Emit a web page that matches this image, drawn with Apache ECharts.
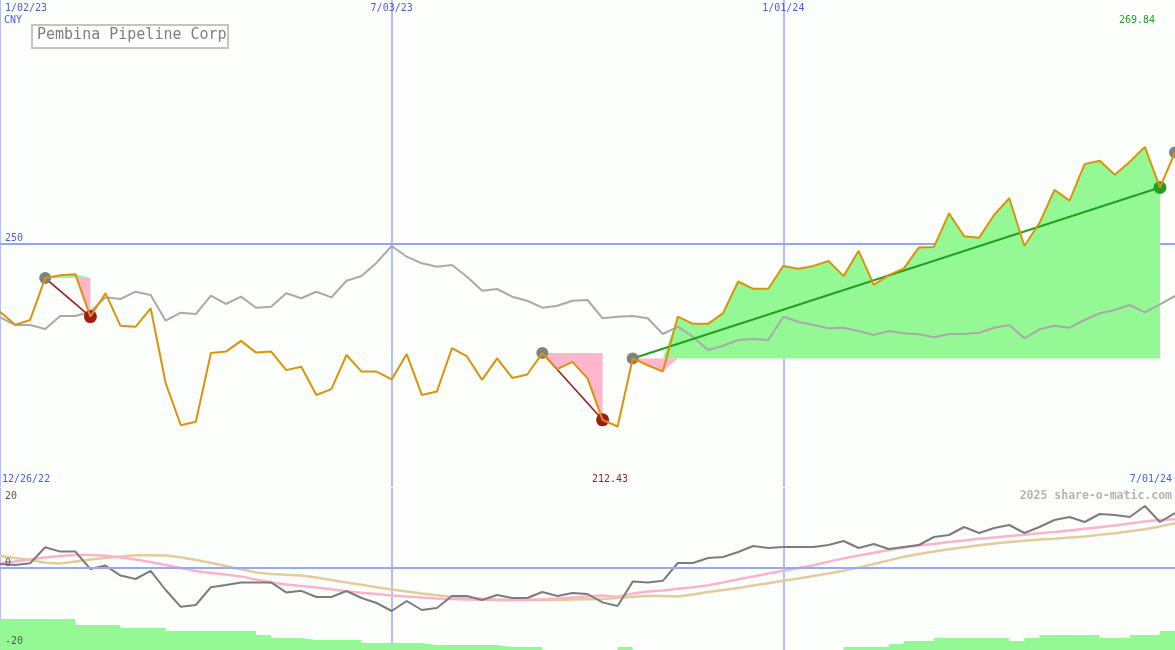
<!DOCTYPE html>
<html><head><meta charset="utf-8">
<script src="https://cdn.jsdelivr.net/npm/echarts@6/dist/echarts.min.js"></script>
<style>html,body{margin:0;padding:0;background:#fcfefc}#c{width:1175px;height:650px}</style>
</head><body><div id="c"></div><script>
const dates = ['1/02/23','1/09/23','1/16/23','1/23/23','1/30/23','2/06/23','2/13/23','2/20/23','2/27/23','3/06/23',
'3/13/23','3/20/23','3/27/23','4/03/23','4/10/23','4/17/23','4/24/23','5/01/23','5/08/23','5/15/23',
'5/22/23','5/29/23','6/05/23','6/12/23','6/19/23','6/26/23','7/03/23','7/10/23','7/17/23','7/24/23',
'7/31/23','8/07/23','8/14/23','8/21/23','8/28/23','9/04/23','9/11/23','9/18/23','9/25/23','10/02/23',
'10/09/23','10/16/23','10/23/23','10/30/23','11/06/23','11/13/23','11/20/23','11/27/23','12/04/23','12/11/23',
'12/18/23','12/25/23','1/01/24','1/08/24','1/15/24','1/22/24','1/29/24','2/05/24','2/12/24','2/19/24',
'2/26/24','3/04/24','3/11/24','3/18/24','3/25/24','4/01/24','4/08/24','4/15/24','4/22/24','4/29/24',
'5/06/24','5/13/24','5/20/24','5/27/24','6/03/24','6/10/24','6/17/24','6/24/24','7/01/24'];
const gridDateIdx = [0, 26, 52];

const close = [236.0,233.3,234.3,242.9,243.5,243.7,235.0,239.8,233.1,232.9,
236.7,221.3,212.7,213.4,227.5,227.8,230.0,227.6,227.8,224.0,
224.7,218.9,220.1,227.1,223.7,223.7,222.1,227.3,218.9,219.6,
228.5,226.8,222.0,226.4,222.4,223.1,227.5,224.2,225.7,222.3,
213.8,212.43,226.4,225.0,223.7,235.0,233.5,233.5,235.7,242.2,
240.7,240.7,245.4,244.8,245.4,246.4,243.3,248.5,241.5,243.5,
244.9,249.2,249.3,256.2,251.5,251.2,255.9,259.3,249.5,254.2,
261.0,258.8,266.3,267.0,264.1,266.8,269.84,261.5,268.7];

const compare = [234.85,233.27,233.27,232.44,235.11,235.11,236.0,238.95,238.6,240.1,
239.43,234.15,235.79,235.52,239.28,237.58,239.08,236.82,237.02,239.77,
238.75,240.1,238.95,242.36,243.33,246.06,249.49,247.29,245.93,245.24,
245.59,243.18,240.31,240.66,239.08,238.25,236.82,237.23,238.25,238.4,
234.64,234.97,235.11,234.64,231.42,232.92,230.86,228.13,229.01,230.18,
230.39,230.18,234.97,233.94,233.27,232.59,232.71,232.03,231.21,232.03,
231.56,231.36,230.74,231.42,231.42,231.68,232.71,233.27,230.53,232.38,
233.12,232.71,234.29,235.67,236.34,237.37,235.87,237.52,239.22];

const entryIdx = [3, 36, 42, 78];
const exitIdx = [6, 40, 77];

const osc = [1.0,0.75,1.2,5.2,4.1,4.1,-0.25,0.6,-1.9,-2.75,
-0.7,-5.5,-9.7,-9.25,-4.8,-4.25,-3.6,-3.6,-3.6,-6.1,
-5.7,-7.25,-7.25,-5.75,-7.5,-8.75,-10.75,-8.25,-10.5,-10,
-7,-7,-8,-6.75,-7.5,-7.5,-6,-7,-6.25,-6.5,
-8.6,-9.5,-3.4,-3.6,-3.2,1.25,1.25,2.5,2.75,4,
5.5,5,5.25,5.25,5.25,5.75,6.75,5,6,4.75,
5.25,5.75,7.75,8.25,10.25,8.75,10,10.75,8.75,10.25,
12,12.75,11.5,13.5,13.25,12.75,15.5,11.5,13.75];

const maFast = [1.2,1.6,2.1,2.6,3.0,3.25,3.25,3.05,2.6,2.1,
1.5,0.75,0,-0.75,-1.25,-1.6,-2.1,-2.9,-3.6,-4.1,
-4.5,-4.9,-5.3,-5.8,-6.2,-6.5,-6.9,-7.1,-7.4,-7.6,
-7.75,-7.85,-7.95,-8.0,-8.0,-7.95,-7.8,-7.6,-7.35,-7.1,
-6.9,-7.2,-6.4,-5.9,-5.6,-5.2,-4.8,-4.3,-3.6,-2.8,
-2.1,-1.4,-0.7,0.0,0.7,1.6,2.4,3.1,3.8,4.5,
5.1,5.6,6.0,6.5,6.9,7.3,7.6,8.0,8.3,8.7,
9.0,9.4,9.8,10.2,10.6,11.1,11.6,12.0,12.2];

const maSlow = [3.0,2.5,2.0,1.3,1.1,1.6,2.1,2.5,2.9,3.2,
3.2,3.1,2.7,2.0,1.3,0.5,-0.3,-1.1,-1.5,-1.7,
-1.9,-2.4,-3.0,-3.6,-4.2,-4.8,-5.4,-5.9,-6.4,-6.8,
-7.2,-7.5,-7.7,-7.9,-8.0,-8.0,-8.0,-8.0,-7.9,-7.8,
-7.75,-7.5,-7.2,-7.0,-7.0,-7.1,-6.6,-6.0,-5.5,-5.0,
-4.4,-3.8,-3.2,-2.6,-2.0,-1.4,-0.7,0.1,1.0,1.9,
2.8,3.5,4.1,4.7,5.2,5.7,6.1,6.5,6.8,7.1,
7.3,7.6,7.9,8.3,8.7,9.2,9.7,10.4,11.2];

const hist = [-12.75,-12.75,-12.75,-12.75,-12.75,-14.25,-14.25,-14.25,-15,-15,
-15,-15.75,-15.75,-15.75,-15.75,-15.75,-15.75,-16.75,-17.5,-17.5,
-18,-18,-18,-18,-18.75,-18.75,-18.75,-18.75,-19.25,-19.25,
-19.25,-19.25,-19.25,-19.75,-19.75,-19.75,-20.5,-20.5,-20.5,-20.5,
-20.5,-19.75,-20.5,-20.5,-20.5,-20.5,-20.5,-20.5,-20.5,-20.5,
-20.5,-20.5,-20.5,-20.5,-20.5,-20.5,-19.75,-19.75,-19.75,-19,
-18.25,-18.25,-17.5,-17.5,-17.5,-17.5,-17.5,-18.25,-17.5,-16.75,
-16.75,-16.75,-16.75,-17.5,-17.5,-16.75,-16.75,-15.75,-15.75];

const MONO = '"DejaVu Sans Mono", monospace';
const BLUE = '#4b5be6';
const GRIDV = '#9aa8f2';
const GREEN_FILL = '#94f894';
const PINK_FILL = '#fdb6cb';

const chart = echarts.init(document.getElementById('c'), null, {renderer: 'canvas'});

const isGridIdx = (i) => gridDateIdx.indexOf(i) >= 0;

const series = [];

// trade profit / loss areas: filled between the entry price and the close line
exitIdx.forEach((ex, k) => {
  const en = entryIdx[k];
  const base = close[en];
  const inTrade = (i) => i >= en && i <= ex;
  series.push({
    type: 'line', xAxisIndex: 0, yAxisIndex: 0, silent: true, z: 1,
    data: close.map((v, i) => inTrade(i) ? Math.max(v, base) : null),
    showSymbol: false, lineStyle: {width: 0, opacity: 0},
    areaStyle: {origin: base, color: GREEN_FILL, opacity: 1}
  });
  series.push({
    type: 'line', xAxisIndex: 0, yAxisIndex: 0, silent: true, z: 1,
    data: close.map((v, i) => inTrade(i) ? Math.min(v, base) : null),
    showSymbol: false, lineStyle: {width: 0, opacity: 0},
    areaStyle: {origin: base, color: PINK_FILL, opacity: 1}
  });
});

// comparison line
series.push({
  type: 'line', xAxisIndex: 0, yAxisIndex: 0, silent: true, z: 2,
  data: compare, showSymbol: false,
  lineStyle: {color: '#a9a9a9', width: 2}
});

// trade connectors
exitIdx.forEach((ex, k) => {
  const en = entryIdx[k];
  const win = close[ex] > close[en];
  series.push({
    type: 'line', xAxisIndex: 0, yAxisIndex: 0, silent: true, z: 3,
    connectNulls: true, showSymbol: false,
    data: close.map((v, i) => (i === en || i === ex) ? v : null),
    lineStyle: {color: win ? '#22a022' : '#a01c1c', width: win ? 2 : 1.6}
  });
});

// entry / exit dots
series.push({
  type: 'scatter', xAxisIndex: 0, yAxisIndex: 0, silent: true, z: 4,
  symbolSize: 12, itemStyle: {color: '#808080', opacity: 1},
  data: entryIdx.map(i => [dates[i], close[i]])
});
series.push({
  type: 'scatter', xAxisIndex: 0, yAxisIndex: 0, silent: true, z: 4,
  symbolSize: 13,
  data: exitIdx.map((i, k) => ({value: [dates[i], close[i]],
    itemStyle: {opacity: 1, color: close[i] > close[entryIdx[k]] ? '#22a022' : '#a01c1c'}}))
});

// price line
series.push({
  type: 'line', xAxisIndex: 0, yAxisIndex: 0, silent: true, z: 5,
  data: close, showSymbol: false,
  lineStyle: {color: '#d9940b', width: 2}
});

// lower panel
series.push({
  type: 'line', xAxisIndex: 1, yAxisIndex: 1, silent: true, z: 1,
  data: hist, step: 'end', showSymbol: false,
  lineStyle: {width: 0, opacity: 0},
  areaStyle: {origin: 'start', color: GREEN_FILL, opacity: 1},
  markLine: {silent: true, symbol: 'none', label: {show: false},
    lineStyle: {color: GRIDV, width: 2, type: 'solid'}, data: [{yAxis: 0}]}
});
series.push({
  type: 'line', xAxisIndex: 1, yAxisIndex: 1, silent: true, z: 2,
  data: maSlow, showSymbol: false, lineStyle: {color: '#e2cc9c', width: 2.5}
});
series.push({
  type: 'line', xAxisIndex: 1, yAxisIndex: 1, silent: true, z: 3,
  data: maFast, showSymbol: false, lineStyle: {color: '#f9b4cc', width: 2.5}
});
series.push({
  type: 'line', xAxisIndex: 1, yAxisIndex: 1, silent: true, z: 4,
  data: osc, showSymbol: false, lineStyle: {color: '#7c7c7c', width: 2}
});

const txt = (text, x, y, color, size, align, weight) => ({
  type: 'text', x: x, y: y, silent: true, z: 100,
  style: {text: text, fill: color, font: (weight || 'normal') + ' ' + size + 'px ' + MONO,
    align: align || 'left', textAlign: align || 'left', verticalAlign: 'top', textVerticalAlign: 'top'}
});

const option = {
  animation: false,
  backgroundColor: '#fcfefc',
  grid: [
    {left: 0, right: 0, top: 0, height: 487, outerBoundsMode: 'none', containLabel: false},
    {left: 0, right: 0, top: 488, bottom: 0, outerBoundsMode: 'none', containLabel: false}
  ],
  xAxis: [
    {type: 'category', gridIndex: 0, data: dates, boundaryGap: false, position: 'top',
     axisLine: {show: false}, axisTick: {show: false},
     axisLabel: {show: true, inside: true, margin: 3, color: BLUE, fontFamily: MONO, fontSize: 10,
       interval: (i) => isGridIdx(i), alignMinLabel: 'left',
       formatter: (v, i) => i === 0 ? '{first|' + v + '}' : v,
       rich: {first: {color: BLUE, fontFamily: MONO, fontSize: 10, padding: [0, 0, 0, 5]}}},
     splitLine: {show: true, interval: (i) => isGridIdx(i), lineStyle: {color: GRIDV, width: 1.5}}},
    {type: 'category', gridIndex: 1, data: dates, boundaryGap: false, position: 'top',
     axisLine: {show: true, lineStyle: {color: '#7b8be8', width: 2}}, axisTick: {show: false},
     axisLabel: {show: false},
     splitLine: {show: true, interval: (i) => isGridIdx(i), lineStyle: {color: GRIDV, width: 1.5}}}
  ],
  yAxis: [
    {type: 'value', gridIndex: 0, min: 200, max: 300, interval: 50,
     axisLine: {show: false}, axisTick: {show: false},
     axisLabel: {inside: true, margin: 5, color: BLUE, fontFamily: MONO, fontSize: 10,
       verticalAlign: 'bottom', formatter: (v) => v === 250 ? '250' : ''},
     splitLine: {show: true, lineStyle: {color: ['transparent', '#95a4f0', 'transparent'], width: 2}}},
    {type: 'value', gridIndex: 1, min: -20.5, max: 20,
     axisLine: {show: false}, axisTick: {show: false}, axisLabel: {show: false},
     splitLine: {show: false}}
  ],
  series: series,
  graphic: [
    txt('CNY', 4, 15, BLUE, 10),
    {type: 'rect', silent: true, z: 99, shape: {x: 32, y: 25, width: 196, height: 23},
     style: {fill: '#ffffff', stroke: '#c4c4c4', lineWidth: 2}},
    txt('Pembina Pipeline Corp', 37, 28, '#7e7e7e', 15),
    txt(close[76].toFixed(2), 1119, 15, '#22a022', 10),
    txt('12/26/22', 2, 474, BLUE, 10),
    txt(close[41].toFixed(2), 592, 474, '#a01c1c', 10),
    txt('7/01/24', 1172, 474, BLUE, 10, 'right'),
    txt('2025 share-o-matic.com', 1172, 490, '#b4b4b4', 11.5, 'right', 'bold'),
    txt('20', 5, 491, '#555555', 10),
    txt('0', 5, 558, '#555555', 10),
    txt('-20', 5, 636, '#555555', 10)
  ]
};
chart.setOption(option);
</script></body></html>
